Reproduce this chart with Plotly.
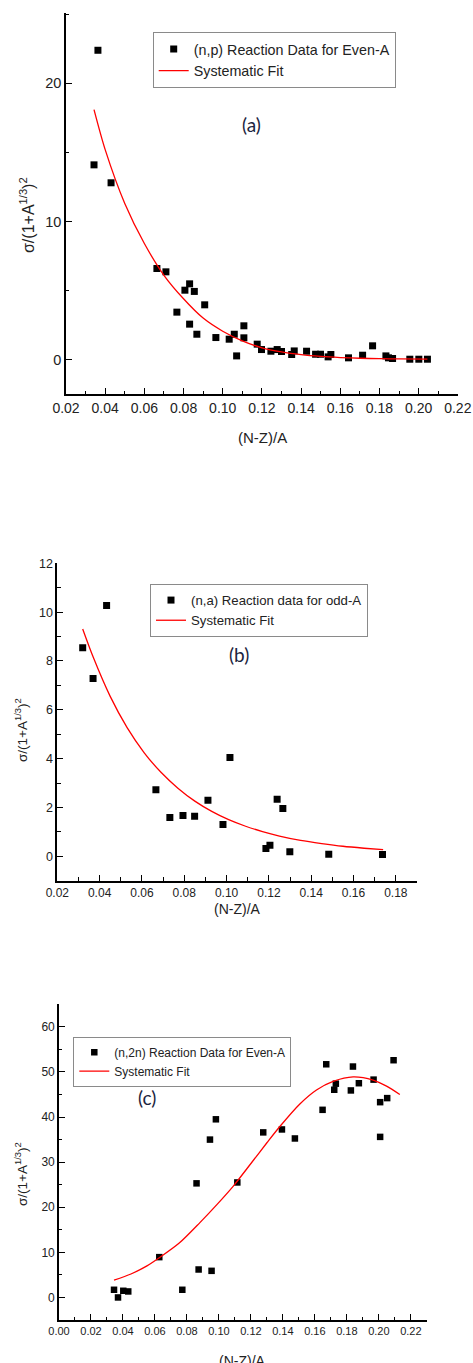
import plotly.graph_objects as go

W, H = 473, 1363

# ---------- Panel (a): (n,p) even-A ----------
a_x = [0.0343, 0.0363, 0.0430, 0.0664, 0.0710, 0.0766, 0.0807, 0.0831, 0.0855, 0.0831,
       0.0868, 0.0908, 0.0965, 0.1033, 0.1059, 0.1071, 0.1108, 0.1108, 0.1176, 0.1198,
       0.1246, 0.1278, 0.1300, 0.1352, 0.1365, 0.1428, 0.1474, 0.1499, 0.1538, 0.1552,
       0.1642, 0.1714, 0.1765, 0.1833, 0.1846, 0.1867, 0.1955, 0.2001, 0.2045]
a_y = [14.1, 22.4, 12.8, 6.59, 6.35, 3.43, 5.02, 5.48, 4.93, 2.56,
       1.83, 3.96, 1.59, 1.47, 1.83, 0.26, 2.44, 1.57, 1.11, 0.72,
       0.60, 0.72, 0.58, 0.36, 0.62, 0.60, 0.38, 0.38, 0.19, 0.36,
       0.12, 0.31, 0.99, 0.26, 0.12, 0.07, 0.02, 0.02, 0.02]
a_fit_x = [0.0343, 0.04, 0.05, 0.06, 0.07, 0.08, 0.09, 0.10, 0.11, 0.12, 0.13, 0.14,
           0.15, 0.16, 0.17, 0.18, 0.19, 0.2045]
a_fit_y = [18.1, 15.2, 11.3, 8.4, 6.1, 4.4, 3.0, 2.05, 1.35, 0.85, 0.55, 0.35,
           0.22, 0.14, 0.09, 0.06, 0.04, 0.02]

# ---------- Panel (b): (n,a) odd-A ----------
b_x = [0.0320, 0.0369, 0.0433, 0.0666, 0.0732, 0.0794, 0.0849, 0.0912, 0.0983, 0.1016,
       0.1186, 0.1205, 0.1239, 0.1266, 0.1299, 0.1483, 0.1737]
b_y = [8.54, 7.28, 10.27, 2.73, 1.59, 1.67, 1.64, 2.29, 1.30, 4.05,
       0.32, 0.45, 2.34, 1.96, 0.19, 0.08, 0.07]
b_fit_x = [0.032, 0.037, 0.045, 0.053, 0.061, 0.069, 0.077, 0.085, 0.093, 0.101,
           0.109, 0.117, 0.125, 0.135, 0.145, 0.155, 0.165, 0.174]
b_fit_y = [9.31, 8.15, 6.55, 5.27, 4.25, 3.44, 2.79, 2.26, 1.84, 1.50,
           1.23, 1.01, 0.83, 0.65, 0.52, 0.41, 0.33, 0.27]

# ---------- Panel (c): (n,2n) even-A ----------
c_x = [0.0344, 0.0369, 0.0402, 0.0433, 0.0627, 0.0771, 0.0860, 0.0873, 0.0954, 0.1115,
       0.0944, 0.0981, 0.1277, 0.1394, 0.1475, 0.1648, 0.1671, 0.1721, 0.1731, 0.1825,
       0.1838, 0.1875, 0.1967, 0.2008, 0.2008, 0.2052, 0.2092]
c_y = [1.7, 0.0, 1.48, 1.33, 8.94, 1.7, 25.3, 6.2, 5.9, 25.5,
       35.0, 39.5, 36.6, 37.25, 35.25, 41.6, 51.7, 46.05, 47.4, 45.9,
       51.2, 47.5, 48.3, 43.3, 35.6, 44.2, 52.6]
c_fit_x = [0.0344, 0.045, 0.055, 0.0627, 0.075, 0.0881, 0.099, 0.109, 0.12, 0.13,
           0.1381, 0.1506, 0.161, 0.1714, 0.1839, 0.1964, 0.2048, 0.2131]
c_fit_y = [3.84, 5.2, 7.0, 8.8, 12.0, 16.6, 20.7, 24.7, 29.7, 34.3,
           37.9, 42.9, 46.0, 47.9, 48.9, 48.2, 46.85, 45.0]

legend_names = [
    ("(n,p) Reaction Data for Even-A", "Systematic Fit"),
    ("(n,a) Reaction data for odd-A", "Systematic Fit"),
    ("(n,2n) Reaction Data for Even-A", "Systematic Fit"),
]
panel_labels = ["(a)", "(b)", "(c)"]

FONT = "Liberation Sans"
TXT = "#222222"


def px_x(p):
    return p / W


def px_y(p):
    return 1 - p / H


fig = go.Figure()

panels = [
    (a_x, a_y, a_fit_x, a_fit_y, "x", "y", "legend", 7),
    (b_x, b_y, b_fit_x, b_fit_y, "x2", "y2", "legend2", 7),
    (c_x, c_y, c_fit_x, c_fit_y, "x3", "y3", "legend3", 6.5),
]
for i, (dx, dy, fx, fy, xa, ya, lg, ms) in enumerate(panels):
    fig.add_trace(go.Scatter(x=dx, y=dy, mode="markers", name=legend_names[i][0],
                             marker=dict(symbol="square", size=ms, color="black"),
                             xaxis=xa, yaxis=ya, legend=lg))
    fig.add_trace(go.Scatter(x=fx, y=fy, mode="lines", name=legend_names[i][1],
                             line=dict(color="#ff0000", width=1.3, shape="spline", smoothing=0.8),
                             xaxis=xa, yaxis=ya, legend=lg))


def axis(domain, rng, dtick, tick0, minor_dtick, fmt, fsize, anchor):
    return dict(domain=domain, range=rng, dtick=dtick, tick0=tick0, tickformat=fmt,
                showline=True, linecolor="black", linewidth=1.6, mirror=False,
                ticks="inside", ticklen=6, tickwidth=1.3, tickcolor="black",
                minor=dict(dtick=minor_dtick, ticks="inside", ticklen=3.5, tickwidth=1.2,
                           tickcolor="black"),
                showgrid=False, zeroline=False, anchor=anchor, automargin=False,
                tickfont=dict(family=FONT, size=fsize, color=TXT))


layout = dict(
    width=W, height=H, margin=dict(l=0, r=0, t=0, b=0, autoexpand=False),
    paper_bgcolor="white", plot_bgcolor="white", showlegend=True,
    font=dict(family=FONT, color=TXT),
    xaxis=axis([px_x(66), px_x(458)], [0.02, 0.2201], 0.02, 0.02, 0.01, ".2f", 14, "y"),
    yaxis=axis([px_y(394), px_y(13)], [-2.5, 25.1], 10, 0, 5, "d", 14.5, "x"),
    xaxis2=axis([px_x(57.3), px_x(417.2)], [0.02, 0.1901], 0.02, 0.02, 0.01, ".2f", 12, "y2"),
    yaxis2=axis([px_y(880.7), px_y(563.3)], [-1, 12], 2, 0, 1, "d", 12.5, "x2"),
    xaxis3=axis([px_x(59), px_x(427)], [0, 0.2301], 0.02, 0, 0.01, ".2f", 11, "y3"),
    yaxis3=axis([px_y(1320), px_y(1004.3)], [-5, 65], 10, 0, 5, "d", 12, "x3"),
)

legend_pos = [(152.7, 32.3, 14.3), (150, 584, 13.2), (73.3, 1036.7, 12)]
for i, (lx, ly, fs) in enumerate(legend_pos):
    key = "legend" if i == 0 else f"legend{i+1}"
    layout[key] = dict(x=px_x(lx), y=px_y(ly), xanchor="left", yanchor="top",
                       bgcolor="white", bordercolor="#8a8a8a", borderwidth=1,
                       font=dict(family=FONT, size=fs, color=TXT),
                       tracegroupgap=0)

fig.update_layout(**layout)

ytitle = "σ/(1+A<sup>1/3</sup>)<sup>2</sup>"
annots = []
# y-axis titles
for (cx, cy, fs) in [(27, 215, 16), (21, 730, 13.5), (21, 1174, 13.5)]:
    annots.append(dict(text=ytitle, xref="paper", yref="paper", x=px_x(cx), y=px_y(cy),
                       xanchor="center", yanchor="middle", textangle=-90, showarrow=False,
                       font=dict(family=FONT, size=fs, color=TXT)))
# x-axis titles
for (cx, cy, fs, ya) in [(262, 437, 15, "middle"), (237, 909, 14, "middle"),
                         (242, 1351, 14, "top")]:
    annots.append(dict(text="(N-Z)/A", xref="paper", yref="paper", x=px_x(cx), y=px_y(cy),
                       xanchor="center", yanchor=ya, showarrow=False,
                       font=dict(family=FONT, size=fs, color=TXT)))
# panel labels placed in data coordinates
for (lab, xr, yr, lx, ly) in [("(a)", "x", "y", 0.1147, 17.0),
                              ("(b)", "x2", "y2", 0.106, 8.28),
                              ("(c)", "x3", "y3", 0.0548, 44.3)]:
    annots.append(dict(text=lab, xref=xr, yref=yr, x=lx, y=ly, showarrow=False,
                       xanchor="center", yanchor="middle",
                       font=dict(family="Lato", size=19, color="#1b2440")))
fig.update_layout(annotations=annots)

fig.write_html("out.html", config={"displayModeBar": False},
               post_script="document.body.style.margin='0';document.body.style.overflow='hidden';")
